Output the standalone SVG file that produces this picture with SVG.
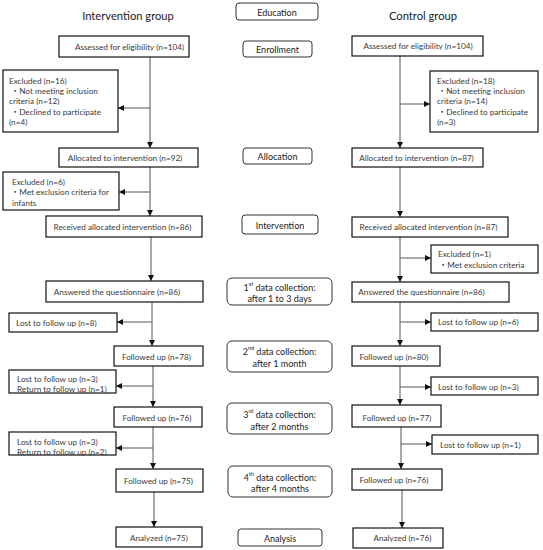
<svg xmlns="http://www.w3.org/2000/svg" width="543" height="550" viewBox="0 0 543 550">
<defs>
<marker id="ah" markerUnits="userSpaceOnUse" markerWidth="7" markerHeight="6" refX="6" refY="3" orient="auto">
<path d="M0,0 L6,3 L0,6 z" fill="#111"/>
</marker>
<style>
text{font-family:Lato,"Noto Sans","Noto Sans CJK JP",sans-serif;dominant-baseline:central}
.t{font-size:11.2px;fill:#222;text-anchor:middle}
.b{font-size:8.2px;fill:#3a3a3a}
.c{text-anchor:middle}
.s{font-size:9px;fill:#222;text-anchor:middle}
.box{fill:#fff;stroke:#111;stroke-width:1.2}
.stg{fill:#fff;stroke:#333;stroke-width:1}
.ln{fill:none;stroke:#555;stroke-width:1;marker-end:url(#ah)}
.sup{font-size:5.5px}
</style>
</defs>
<rect width="543" height="550" fill="#fff"/>

<g id="titles">
<text class="t" x="128" y="15">Intervention group</text>
<text class="t" x="423" y="15">Control group</text>
</g>

<g id="connectors">
<line class="ln" x1="150" y1="57" x2="150" y2="148"/>
<line class="ln" x1="150" y1="108" x2="118" y2="108"/>
<line class="ln" x1="150" y1="167" x2="150" y2="216"/>
<line class="ln" x1="150" y1="192" x2="119" y2="192"/>
<line class="ln" x1="151" y1="237" x2="151" y2="281"/>
<line class="ln" x1="152" y1="302" x2="152" y2="346"/>
<line class="ln" x1="152" y1="322" x2="117" y2="322"/>
<line class="ln" x1="153" y1="366" x2="153" y2="407"/>
<line class="ln" x1="153" y1="386" x2="116" y2="386"/>
<line class="ln" x1="153" y1="427" x2="153" y2="469"/>
<line class="ln" x1="153" y1="448" x2="116" y2="448"/>
<line class="ln" x1="154" y1="492" x2="154" y2="527"/>
<line class="ln" x1="400" y1="56" x2="400" y2="148"/>
<line class="ln" x1="400" y1="104" x2="430" y2="104"/>
<line class="ln" x1="400" y1="167" x2="400" y2="217"/>
<line class="ln" x1="400" y1="237" x2="400" y2="282"/>
<line class="ln" x1="400" y1="258" x2="431" y2="258"/>
<line class="ln" x1="400" y1="302" x2="400" y2="346"/>
<line class="ln" x1="400" y1="322" x2="431" y2="322"/>
<line class="ln" x1="400" y1="366" x2="400" y2="405"/>
<line class="ln" x1="400" y1="387" x2="431" y2="387"/>
<line class="ln" x1="401" y1="427" x2="401" y2="469"/>
<line class="ln" x1="401" y1="444" x2="432" y2="444"/>
<line class="ln" x1="402" y1="490" x2="402" y2="528"/>
</g>

<g id="stage-education"><rect class="stg" x="236" y="3" width="82" height="17" rx="3"/><text class="s" x="277" y="12">Education</text></g>
<g id="stage-enrollment"><rect class="stg" x="243" y="41" width="69" height="16" rx="3"/><text class="s" x="277.5" y="49">Enrollment</text></g>
<g id="stage-allocation"><rect class="stg" x="243" y="148" width="69" height="16" rx="3"/><text class="s" x="277.5" y="156">Allocation</text></g>
<g id="stage-intervention"><rect class="stg" x="242" y="215" width="76" height="19" rx="3"/><text class="s" x="280" y="225">Intervention</text></g>
<g id="stage-dc1"><rect class="stg" x="227" y="278" width="105" height="27" rx="5"/><text class="s" x="279.5" y="287">1<tspan class="sup" dy="-3">st</tspan><tspan dy="3"> data collection:</tspan></text><text class="s" x="279.5" y="298">after 1 to 3 days</text></g>
<g id="stage-dc2"><rect class="stg" x="227" y="341" width="105" height="31" rx="5"/><text class="s" x="279.5" y="351">2<tspan class="sup" dy="-3">nd</tspan><tspan dy="3"> data collection:</tspan></text><text class="s" x="279.5" y="363">after 1 month</text></g>
<g id="stage-dc3"><rect class="stg" x="227" y="403" width="105" height="31" rx="5"/><text class="s" x="279.5" y="414">3<tspan class="sup" dy="-3">rd</tspan><tspan dy="3"> data collection:</tspan></text><text class="s" x="279.5" y="426">after 2 months</text></g>
<g id="stage-dc4"><rect class="stg" x="228" y="466" width="104" height="31" rx="5"/><text class="s" x="280" y="477">4<tspan class="sup" dy="-3">th</tspan><tspan dy="3"> data collection:</tspan></text><text class="s" x="280" y="488">after 4 months</text></g>
<g id="stage-analysis"><rect class="stg" x="238" y="529" width="84" height="17" rx="3"/><text class="s" x="280" y="538">Analysis</text></g>

<g id="L-assessed"><rect class="box" x="59" y="36" width="130" height="21"/><text class="b c" x="129.5" y="46.5">Assessed for eligibility (n=104)</text></g>
<g id="L-excluded1"><rect class="box" x="3" y="70" width="115" height="62"/>
<text class="b" x="9" y="81">Excluded (n=16)</text>
<text class="b" x="11" y="91">・Not meeting inclusion</text>
<text class="b" x="9" y="100.5">criteria (n=12)</text>
<text class="b" x="11" y="112">・Declined to participate</text>
<text class="b" x="9" y="122">(n=4)</text></g>
<g id="L-allocated"><rect class="box" x="59" y="148" width="139" height="19"/><text class="b c" x="125" y="157.5">Allocated to intervention (n=92)</text></g>
<g id="L-excluded2"><rect class="box" x="3" y="172" width="116" height="38"/>
<text class="b" x="12" y="182">Excluded (n=6)</text>
<text class="b" x="11" y="192">・Met exclusion criteria for</text>
<text class="b" x="12" y="202.5">infants</text></g>
<g id="L-received"><rect class="box" x="46" y="216" width="156" height="21"/><text class="b c" x="122.5" y="226.5">Received allocated intervention (n=86)</text></g>
<g id="L-answered"><rect class="box" x="46" y="281" width="157" height="21"/><text class="b c" x="117" y="291.5">Answered the questionnaire (n=86)</text></g>
<g id="L-lost1"><rect class="box" x="9" y="313" width="108" height="19"/><text class="b" x="16" y="322.5">Lost to follow up (n=8)</text></g>
<g id="L-fu78"><rect class="box" x="114" y="346" width="89" height="20"/><text class="b c" x="156.5" y="356.5">Followed up (n=78)</text></g>
<g id="L-lost2"><rect class="box" x="9" y="370" width="107" height="23"/><text class="b" x="17" y="379">Lost to follow up (n=3)</text><text class="b" x="17" y="389">Return to follow up (n=1)</text></g>
<g id="L-fu76"><rect class="box" x="114" y="407" width="88" height="20"/><text class="b c" x="157" y="417.5">Followed up (n=76)</text></g>
<g id="L-lost3"><rect class="box" x="9" y="432" width="107" height="23"/><text class="b" x="17" y="441.5">Lost to follow up (n=3)</text><text class="b" x="17" y="451.5">Return to follow up (n=2)</text></g>
<g id="L-fu75"><rect class="box" x="116" y="469" width="87" height="23"/><text class="b c" x="158.5" y="481">Followed up (n=75)</text></g>
<g id="L-analyzed"><rect class="box" x="116" y="527" width="86" height="20"/><text class="b c" x="159" y="537.5">Analyzed  (n=75)</text></g>

<g id="R-assessed"><rect class="box" x="352" y="36" width="131" height="20"/><text class="b c" x="418" y="46">Assessed for eligibility (n=104)</text></g>
<g id="R-excluded1"><rect class="box" x="430" y="71" width="108" height="61"/>
<text class="b" x="437" y="81">Excluded (n=18)</text>
<text class="b" x="438" y="91">・Not meeting inclusion</text>
<text class="b" x="437" y="100.5">criteria (n=14)</text>
<text class="b" x="438" y="112">・Declined to participate</text>
<text class="b" x="437" y="122">(n=3)</text></g>
<g id="R-allocated"><rect class="box" x="352" y="148" width="131" height="19"/><text class="b c" x="416.5" y="157.5">Allocated to intervention (n=87)</text></g>
<g id="R-received"><rect class="box" x="352" y="217" width="156" height="20"/><text class="b c" x="428.5" y="227">Received allocated intervention (n=87)</text></g>
<g id="R-excluded2"><rect class="box" x="431" y="245" width="107" height="28"/>
<text class="b" x="438" y="254">Excluded (n=1)</text>
<text class="b" x="439" y="265">・Met exclusion criteria</text></g>
<g id="R-answered"><rect class="box" x="352" y="282" width="157" height="20"/><text class="b c" x="421.5" y="292">Answered the questionnaire (n=86)</text></g>
<g id="R-lost1"><rect class="box" x="431" y="313" width="107" height="18"/><text class="b" x="438" y="322">Lost to follow up (n=6)</text></g>
<g id="R-fu80"><rect class="box" x="352" y="346" width="88" height="20"/><text class="b c" x="394" y="356.5">Followed up (n=80)</text></g>
<g id="R-lost2"><rect class="box" x="431" y="377" width="107" height="18"/><text class="b" x="438" y="386.5">Lost to follow up (n=3)</text></g>
<g id="R-fu77"><rect class="box" x="352" y="405" width="89" height="22"/><text class="b c" x="397" y="417.5">Followed up (n=77)</text></g>
<g id="R-lost3"><rect class="box" x="432" y="435" width="106" height="19"/><text class="b" x="440" y="444.5">Lost to follow up (n=1)</text></g>
<g id="R-fu76"><rect class="box" x="352" y="469" width="90" height="21"/><text class="b c" x="394" y="479.5">Followed up (n=76)</text></g>
<g id="R-analyzed"><rect class="box" x="353" y="528" width="90" height="20"/><text class="b c" x="402.5" y="537.5">Analyzed (n=76)</text></g>
</svg>
